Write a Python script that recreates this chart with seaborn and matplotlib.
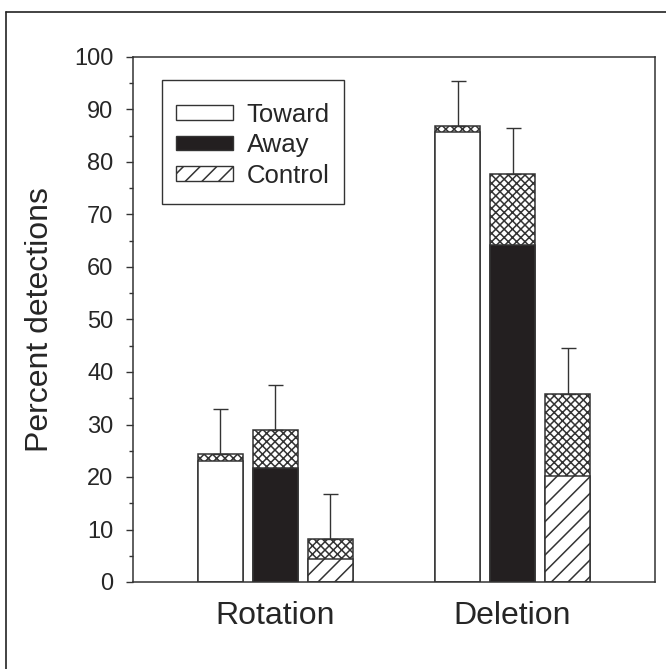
import numpy as np
import pandas as pd
import matplotlib
matplotlib.use("Agg")
import matplotlib.pyplot as plt
import seaborn as sns
from matplotlib.patches import Patch, Rectangle
from matplotlib.lines import Line2D

# ---- data ----
categories = ["Rotation", "Deletion"]
conditions = ["Toward", "Away", "Control"]
base_toward = [23.1, 85.7]
base_away = [21.8, 64.1]
base_control = [4.4, 20.2]
total_toward = [24.3, 86.8]
total_away = [29.0, 77.8]
total_control = [8.1, 35.9]
err_toward = [32.9, 95.4]
err_away = [37.5, 86.4]
err_control = [16.8, 44.5]
yticks = [0, 10, 20, 30, 40, 50, 60, 70, 80, 90, 100]

rows = []
for cond, b, t, e in zip(conditions,
                         [base_toward, base_away, base_control],
                         [total_toward, total_away, total_control],
                         [err_toward, err_away, err_control]):
    for i, cat in enumerate(categories):
        rows.append(dict(task=cat, condition=cond, base=b[i], total=t[i], err=e[i]))
df = pd.DataFrame(rows)

sns.set_theme(style="white")
plt.rcParams["font.family"] = ["Liberation Sans", "DejaVu Sans"]
plt.rcParams["hatch.linewidth"] = 1.1

EDGE = "#333333"
BLACK = "#231f20"
face = {"Toward": "white", "Away": BLACK, "Control": "white"}
hatch = {"Toward": None, "Away": None, "Control": "//"}

fig = plt.figure(figsize=(6.66, 6.69), dpi=100)
ax = fig.add_axes([133 / 666, 1 - 582 / 669, (655 - 133) / 666, (582 - 57) / 669])

common = dict(data=df, x="task", hue="condition", order=categories, hue_order=conditions,
              width=0.696, gap=0.18, errorbar=None, legend=False, ax=ax,
              palette=["white"] * 3, saturation=1, edgecolor=EDGE, linewidth=1.1)

# top (cross-hatched) segments
sns.barplot(y="total", **common)
# base segments
sns.barplot(y="base", **common)

ncond = len(conditions)
for i, cond in enumerate(conditions):
    for p in ax.containers[i].patches:
        p.set_facecolor("white")
        p.set_hatch("xxxx")
        p.set_edgecolor(EDGE)
    for p in ax.containers[ncond + i].patches:
        p.set_facecolor(face[cond])
        if hatch[cond]:
            p.set_hatch(hatch[cond])
        p.set_edgecolor(EDGE)

# error bars (upward only)
for i, cond in enumerate(conditions):
    sub = df[df.condition == cond].set_index("task").loc[categories]
    xs = [p.get_x() + p.get_width() / 2 for p in ax.containers[i].patches]
    up = sub["err"].values - sub["total"].values
    ax.errorbar(xs, sub["total"].values, yerr=[np.zeros_like(up), up], fmt="none",
                ecolor=EDGE, elinewidth=1.0, capsize=5.4, capthick=1.0, zorder=1)

ax.set_xlim(-0.601, 1.601)
ax.set_ylim(0, 100)
ax.set_yticks(yticks)
ax.set_yticks(np.arange(5, 100, 10), minor=True)
ax.tick_params(axis="y", which="major", left=True, length=5, width=1, color=EDGE,
               labelsize=17, pad=9)
ax.tick_params(axis="y", which="minor", left=True, length=3, width=1, color=EDGE)
ax.tick_params(axis="x", length=0, labelsize=23, pad=14)
ax.set_xlabel("")
ax.set_ylabel("Percent detections", fontsize=23, labelpad=14)
for s in ax.spines.values():
    s.set_visible(True)
    s.set_color(EDGE)
    s.set_linewidth(1.1)

handles = [Patch(facecolor="white", edgecolor=EDGE, linewidth=1.0, label="Toward"),
           Patch(facecolor=BLACK, edgecolor=EDGE, linewidth=1.0, label="Away"),
           Patch(facecolor="white", edgecolor=EDGE, linewidth=1.0, hatch="//", label="Control")]
leg = ax.legend(handles=handles, loc="upper left", bbox_to_anchor=(0.0824, 0.913),
                borderaxespad=0, borderpad=0, fontsize=18.5, frameon=False,
                handlelength=2.2, handleheight=0.5, labelspacing=0.25,
                handletextpad=0.55)
# legend frame
ax.add_patch(Rectangle((0.0556, 0.72), 0.4042 - 0.0556, 0.9562 - 0.72,
                       transform=ax.transAxes, facecolor="white", edgecolor=EDGE,
                       linewidth=1.0, zorder=4))
leg.set_zorder(5)

# outer frame (left and top edges)
fig.add_artist(Line2D([6 / 666, 6 / 666], [0, 1 - 12 / 669], transform=fig.transFigure,
                      color="#222222", lw=1.2))
fig.add_artist(Line2D([6 / 666, 1], [1 - 12 / 669, 1 - 12 / 669], transform=fig.transFigure,
                      color="#222222", lw=1.2))

fig.savefig("out.png", dpi=100)
